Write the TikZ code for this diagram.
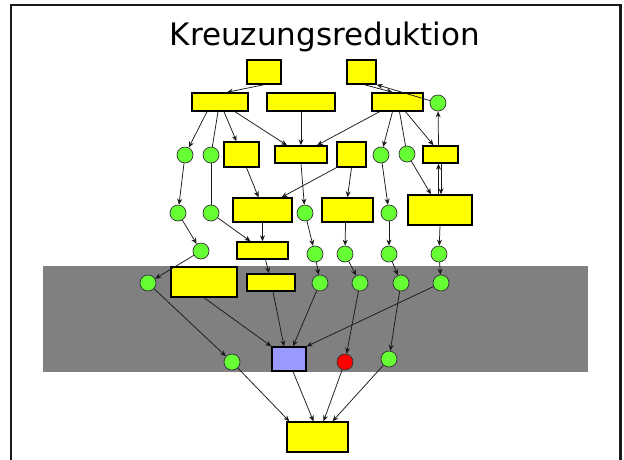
\documentclass[tikz,border=0pt]{standalone}
\usepackage{fontspec}
\usepackage{tikz}
\usetikzlibrary{arrows.meta}
\newfontfamily\titlefont{DejaVu Sans}
\definecolor{BoxYellow}{HTML}{FFFF00}
\definecolor{DotGreen}{HTML}{66FF33}
\definecolor{DotRed}{HTML}{FF0000}
\definecolor{BoxLilac}{HTML}{9999FF}
\definecolor{BandGray}{HTML}{808080}
\definecolor{LineDark}{HTML}{1A1A1A}
\tikzset{
  ybox/.style={draw=black, line width=1.4pt, fill=BoxYellow, inner sep=0pt},
  pbox/.style={draw=black, line width=1.2pt, fill=BoxLilac, inner sep=0pt,
               minimum width=34pt, minimum height=24pt},
  gdot/.style={circle, draw=black!80, line width=0.7pt, fill=DotGreen,
               inner sep=0pt, minimum size=16pt},
  rdot/.style={gdot, fill=DotRed},
  edge/.style={draw=LineDark, line width=0.75pt, -{Stealth[length=6pt,width=5pt]}},
  link/.style={draw=LineDark, line width=0.75pt}
}

\begin{document}
\begin{tikzpicture}[x=1pt, y=-1pt]
  \useasboundingbox (0,0) rectangle (624,459);
  % frame and title
  \draw[LineDark, line width=2.8pt] (11,470) -- (11,5) -- (620.5,5) -- (620.5,470);
  \node[anchor=base, font=\titlefont\fontsize{31}{31}\selectfont] (title) at (325,45) {Kreuzungsreduktion};
  % gray band
  \fill[BandGray] (43,266) rectangle (588,372);

  % top boxes
  \node[ybox, minimum width=34pt, minimum height=24pt] (T1) at (264,72) {};
  \node[ybox, minimum width=29pt, minimum height=24pt] (T2) at (361.5,72) {};
  % second row
  \node[ybox, minimum width=56pt, minimum height=18pt] (A1) at (220,102) {};
  \node[ybox, minimum width=68pt, minimum height=18pt] (A2) at (301,102) {};
  \node[ybox, minimum width=51pt, minimum height=18pt] (A3) at (397.5,102) {};
  \node[gdot] (C0) at (438,103) {};
  % third row
  \node[gdot] (g1) at (185,155) {};
  \node[gdot] (g2) at (211,155) {};
  \node[ybox, minimum width=35pt, minimum height=25pt] (B1) at (241.5,154.5) {};
  \node[ybox, minimum width=52pt, minimum height=17pt] (B2) at (301,154.5) {};
  \node[ybox, minimum width=29pt, minimum height=25pt] (B3) at (351.5,154.5) {};
  \node[gdot] (g3) at (381,155) {};
  \node[gdot] (g4) at (407,154) {};
  \node[ybox, minimum width=35pt, minimum height=17pt] (B4) at (440.5,154.5) {};
  % fourth row
  \node[gdot] (g5) at (178,213) {};
  \node[gdot] (g6) at (211,213) {};
  \node[ybox, minimum width=59pt, minimum height=24pt] (C1) at (262.5,210) {};
  \node[gdot] (g7) at (305,213) {};
  \node[ybox, minimum width=51pt, minimum height=24pt] (C2) at (347.5,210) {};
  \node[gdot] (g8) at (389,213) {};
  \node[ybox, minimum width=64pt, minimum height=30pt] (C3) at (440,210) {};
  % fifth row
  \node[gdot] (g9) at (201,251) {};
  \node[ybox, minimum width=51pt, minimum height=17pt] (D1) at (262.5,250.5) {};
  \node[gdot] (g10) at (315,254) {};
  \node[gdot] (g11) at (345,254) {};
  \node[gdot] (g12) at (389,254) {};
  \node[gdot] (g13) at (439,254) {};
  % inside the band
  \node[gdot] (g14) at (148,283) {};
  \node[ybox, minimum width=66pt, minimum height=30pt] (E1) at (204,282) {};
  \node[ybox, minimum width=48pt, minimum height=17pt] (E2) at (271,282.5) {};
  \node[gdot] (g15) at (320,283) {};
  \node[gdot] (g16) at (360,283) {};
  \node[gdot] (g17) at (401,283) {};
  \node[gdot] (g18) at (441,283) {};
  \node[gdot] (g19) at (232,362) {};
  \node[pbox] (P) at (289,359) {};
  \node[rdot] (R) at (345,362) {};
  \node[gdot] (g20) at (389,359) {};
  % sink
  \node[ybox, minimum width=61pt, minimum height=30pt] (F) at (317.5,437) {};

  % edges between the upper rows
  \draw[edge] (T1.south) -- ([xshift=7pt]A1.north);
  \draw[edge] ([xshift=3pt]T2.south) -- ([xshift=-5pt]A3.north);
  \draw[edge] (C0) -- (T2.south east);
  \draw[edge] ([xshift=-13pt]A1.south) -- (g1);
  \draw[link] ([xshift=-2pt]A1.south) -- (g2);
  \draw[edge] ([xshift=4pt]A1.south) -- ([xshift=-5pt]B1.north);
  \draw[edge] ([xshift=15pt]A1.south) -- ([xshift=-14pt]B2.north);
  \draw[edge] (A2.south) -- (B2.north);
  \draw[edge] ([xshift=-18pt]A3.south) -- ([xshift=16pt]B2.north);
  \draw[edge] ([xshift=-5pt]A3.south) -- (g3);
  \draw[link] ([xshift=2pt]A3.south) -- (g4);
  \draw[edge] ([xshift=8pt]A3.south) -- ([xshift=-7pt]B4.north);
  \draw[edge] ([xshift=-2pt]B4.north) -- (C0);
  % edges into the fourth row
  \draw[edge] ([xshift=5pt]B1.south) -- ([xshift=-4pt]C1.north);
  \draw[edge] (B3.south west) -- ([xshift=19pt]C1.north);
  \draw[edge] (B3.south) -- (C2.north);
  \draw[edge] (B2.south) -- (g7);
  \draw[link] (g2) -- (g6);
  \draw[edge] (g4) -- ([xshift=-9pt]C3.north);
  \draw[edge] ([xshift=0.5pt]B4.south) -- ([xshift=1pt]C3.north);
  \draw[edge] ([xshift=-1.5pt]C3.north) -- ([xshift=-2pt]B4.south);
  \foreach \a/\b in {g1/g5, g3/g8, g5/g9, g7/g10, g8/g12, g9/g14,
                     g10/g15, g11/g16, g12/g17, g13/g18}
    \draw[edge] (\a) -- (\b);
  % edges into the band
  \draw[edge] (C1.south) -- (D1.north);
  \draw[edge] (g6) -- ([xshift=-12pt]D1.north);
  \draw[edge] ([xshift=-2pt]C2.south) -- (g11);
  \draw[edge] (C3.south) -- (g13);
  \draw[edge] ([xshift=3pt]D1.south) -- ([xshift=-2pt]E2.north);
  % edges inside the band
  \draw[edge] (g14) -- (g19);
  \draw[edge] (E1.south) -- (P.north west);
  \draw[edge] ([xshift=2pt]E2.south) -- ([xshift=-5pt]P.north);
  \draw[edge] (g15) -- ([xshift=4pt]P.north);
  \draw[edge] (g18) -- (P.north east);
  \draw[edge] (g16) -- (R);
  \draw[edge] (g17) -- (g20);
  % edges into the sink
  \draw[edge] (g19) -- ([xshift=3pt]F.north west);
  \draw[edge] ([xshift=4pt]P.south) -- ([xshift=-4pt]F.north);
  \draw[edge] (R) -- ([xshift=6pt]F.north);
  \draw[edge] (g20) -- ([xshift=15pt]F.north);
\end{tikzpicture}
\end{document}
